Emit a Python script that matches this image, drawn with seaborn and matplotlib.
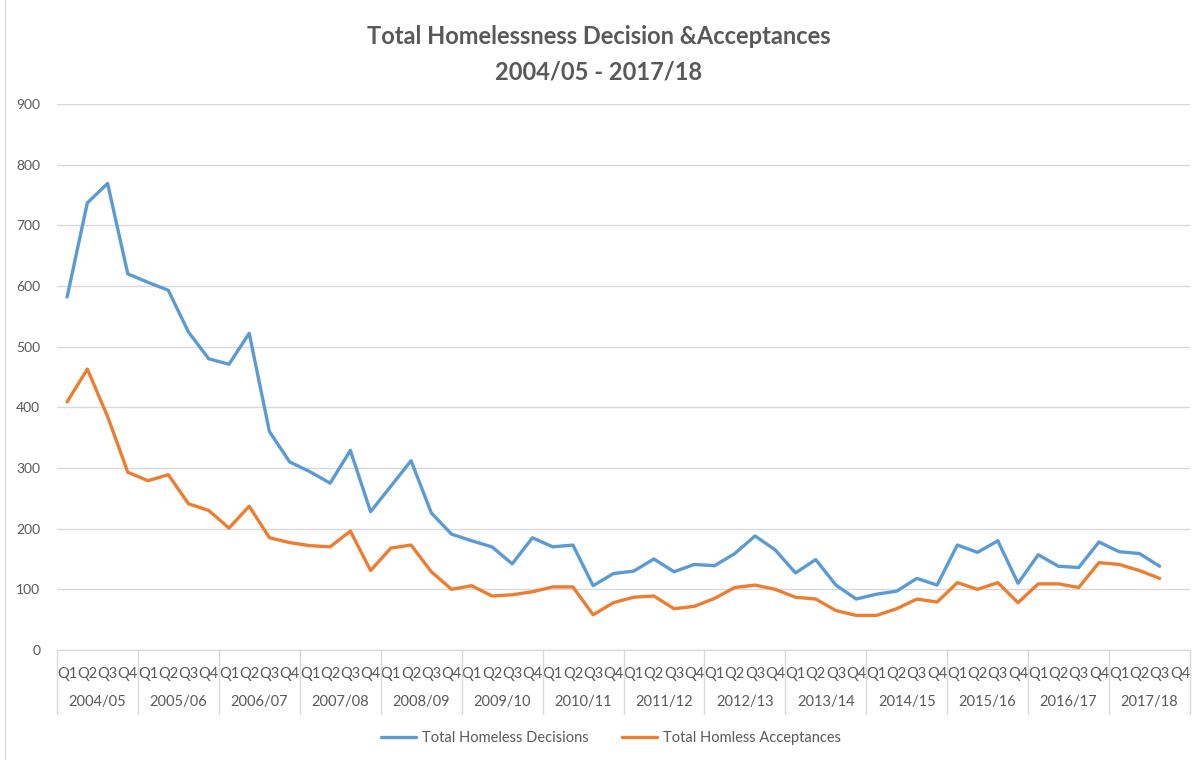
import numpy as np
import pandas as pd
import matplotlib
matplotlib.use("Agg")
import matplotlib.pyplot as plt
import seaborn as sns
from matplotlib.lines import Line2D
import matplotlib.transforms as mtransforms

years = ["2004/05", "2005/06", "2006/07", "2007/08", "2008/09", "2009/10", "2010/11",
         "2011/12", "2012/13", "2013/14", "2014/15", "2015/16", "2016/17", "2017/18"]
quarters = ["Q1", "Q2", "Q3", "Q4"]

decisions = [582, 737, 769, 620, 606, 593, 524, 480, 471, 522, 360, 310, 294, 275, 329, 228,
             270, 312, 226, 191, 180, 170, 142, 185, 170, 173, 106, 126, 130, 150, 129, 141,
             139, 159, 188, 165, 127, 149, 107, 84, 92, 97, 118, 107, 173, 161, 180, 110,
             157, 138, 136, 178, 162, 159, 138, np.nan]
acceptances = [409, 463, 385, 293, 279, 289, 241, 230, 201, 237, 185, 177, 172, 170, 196, 131,
               168, 173, 129, 100, 106, 89, 91, 96, 104, 104, 58, 78, 87, 89, 68, 72,
               85, 103, 107, 100, 87, 84, 65, 57, 57, 68, 84, 79, 111, 100, 111, 78,
               109, 109, 103, 144, 141, 131, 118, np.nan]

series_names = ["Total Homeless Decisions", "Total Homless Acceptances"]
colors = ["#5B9BD5", "#ED7D31"]

n = len(years) * len(quarters)
idx = np.arange(n)
df = pd.DataFrame({
    "idx": np.concatenate([idx, idx]),
    "value": decisions + acceptances,
    "series": [series_names[0]] * n + [series_names[1]] * n,
})

sns.set_theme(style="white")
plt.rcParams["font.family"] = ["Lato", "DejaVu Sans"]

W, H = 1197, 760
fig = plt.figure(figsize=(W / 100, H / 100), dpi=100)
left, right, top, bottom = 57, 1190, 104, 650
ax = fig.add_axes([left / W, 1 - bottom / H, (right - left) / W, (bottom - top) / H])

sns.lineplot(data=df, x="idx", y="value", hue="series", palette=colors, linewidth=2.4,
             ax=ax, legend=False, sort=False)

grey = "#595959"
gridc = "#D9D9D9"
ax.set_xlim(-0.5, n - 0.5)
ax.set_ylim(0, 900)
ax.set_yticks(np.arange(0, 901, 100))
ax.yaxis.grid(True, color=gridc, linewidth=1)
ax.set_axisbelow(True)
for s in ["top", "right", "left"]:
    ax.spines[s].set_visible(False)
ax.spines["bottom"].set_color(gridc)
ax.spines["bottom"].set_linewidth(1)
ax.set_xlabel("")
ax.set_ylabel("")
ax.set_xticks(idx)
ax.set_xticklabels(quarters * len(years))
ax.tick_params(axis="x", length=0, pad=12, labelsize=10.5, labelcolor=grey)
ax.tick_params(axis="y", length=0, pad=12, labelsize=10, labelcolor=grey)

trans = mtransforms.blended_transform_factory(ax.transData, ax.transAxes)
axh = bottom - top
sep_bottom = -(714 - 650) / axh
for k in range(len(years) + 1):
    xb = k * 4 - 0.5
    ax.add_line(Line2D([xb, xb], [0, sep_bottom], transform=trans, color=gridc,
                       linewidth=1, clip_on=False))
for k, y in enumerate(years):
    ax.text(k * 4 + 1.5, -(702 - 650) / axh, y, transform=trans, ha="center", va="center",
            fontsize=10.5, color=grey)

fig.text(0.5, 1 - 37 / H, "Total Homelessness Decision &Acceptances", ha="center", va="center",
         fontsize=17, fontweight="bold", color=grey)
fig.text(0.5, 1 - 72 / H, "2004/05 - 2017/18", ha="center", va="center",
         fontsize=17, fontweight="bold", color=grey)

handles = [Line2D([0], [0], color=c, linewidth=2.4) for c in colors]
fig.legend(handles, series_names, loc="center", bbox_to_anchor=(611 / W, 1 - 738 / H), ncol=2,
           frameon=False, fontsize=10.5, labelcolor=grey, handlelength=2.4, handletextpad=0.4,
           columnspacing=2.3)

fig.add_artist(Line2D([5 / W, 5 / W], [0, 1], transform=fig.transFigure, color=gridc, linewidth=1))

fig.savefig("out.png", dpi=100)
